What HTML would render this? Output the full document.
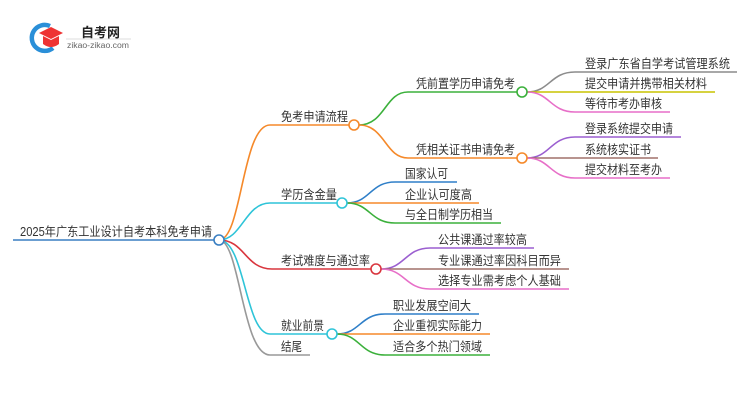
<!DOCTYPE html>
<html><head><meta charset="utf-8"><style>
html,body{margin:0;padding:0;background:#fff;}
svg{display:block;}
text{font-family:"Liberation Sans","Noto Sans CJK SC",sans-serif;font-size:12.5px;fill:#333;}
</style></head><body>
<svg width="750" height="410" viewBox="0 0 750 410" xmlns="http://www.w3.org/2000/svg">
<path d="M50 26 A13 13 0 1 0 53 48" fill="none" stroke="#2a8fd8" stroke-width="4.5"/>
<polygon points="39,33 51,27 63,33 51,39" fill="#e33"/>
<path d="M43 36 L43 44 Q51 50 59 44 L59 36 L51 40 Z" fill="#e33"/>
<text x="81" y="37" style="font-size:13px;font-weight:bold;fill:#222">自考网</text>
<line x1="66" y1="39" x2="131" y2="39" stroke="#ddd" stroke-width="1"/>
<text x="67" y="48" style="font-size:8px;fill:#666" textLength="62" lengthAdjust="spacingAndGlyphs">zikao-zikao.com</text>

<g fill="none" stroke-width="1.6">
<line x1="13" y1="240" x2="214" y2="240" stroke="#3a7fc2"/>
<path d="M219 240 C242 240 242 125 270 125 L349 125" stroke="#f5892a"/>
<path d="M219 240 C242 240 245 203 270 203 L337 203" stroke="#2ec4d8"/>
<path d="M219 240 C245 240 245 269 272 269 L371 269" stroke="#d9363e"/>
<path d="M219 240 C245 240 245 334 270 334 L327 334" stroke="#2ec4d8"/>
<path d="M219 240 C240 240 242 355 270 355 L310 355" stroke="#999"/>
<path d="M359 125 C385 125 385 92 408 92 L517 92" stroke="#3bb03b"/>
<path d="M359 125 C385 125 385 158 408 158 L517 158" stroke="#f5892a"/>
<path d="M527 92 C550 92 550 72 575 72 L737 72" stroke="#8c8c8c"/>
<path d="M527 92 L715 92" stroke="#c8c400"/>
<path d="M527 92 C550 92 550 112 575 112 L670 112" stroke="#e76fc8"/>
<path d="M527 158 C550 158 550 137 575 137 L681 137" stroke="#9b5fd0"/>
<path d="M527 158 L658 158" stroke="#a0706a"/>
<path d="M527 158 C550 158 550 178 575 178 L670 178" stroke="#e76fc8"/>
<path d="M347 203 C370 203 370 182 395 182 L457 182" stroke="#2f7fc8"/>
<path d="M347 203 L479 203" stroke="#f5892a"/>
<path d="M347 203 C370 203 370 223 395 223 L501 223" stroke="#3bb03b"/>
<path d="M381 269 C405 269 405 248 430 248 L534 248" stroke="#9b5fd0"/>
<path d="M381 269 L569 269" stroke="#a0706a"/>
<path d="M381 269 C405 269 405 289 430 289 L569 289" stroke="#e76fc8"/>
<path d="M337 334 C360 334 360 314 385 314 L479 314" stroke="#2f7fc8"/>
<path d="M337 334 L490 334" stroke="#f5892a"/>
<path d="M337 334 C360 334 360 355 385 355 L490 355" stroke="#3bb03b"/>
</g>
<g fill="#fff" stroke-width="1.6">
<circle cx="219" cy="240" r="5" stroke="#3a7fc2"/>
<circle cx="354" cy="125" r="5" stroke="#f5892a"/>
<circle cx="342" cy="203" r="5" stroke="#2ec4d8"/>
<circle cx="376" cy="269" r="5" stroke="#d9363e"/>
<circle cx="332" cy="334" r="5" stroke="#2ec4d8"/>
<circle cx="522" cy="92" r="5" stroke="#3bb03b"/>
<circle cx="522" cy="158" r="5" stroke="#f5892a"/>
</g>
<g>
<text x="20" y="236" textLength="192" lengthAdjust="spacingAndGlyphs">2025年广东工业设计自考本科免考申请</text>
<text x="281" y="121" textLength="67" lengthAdjust="spacingAndGlyphs">免考申请流程</text>
<text x="281" y="199" textLength="56" lengthAdjust="spacingAndGlyphs">学历含金量</text>
<text x="281" y="265" textLength="89" lengthAdjust="spacingAndGlyphs">考试难度与通过率</text>
<text x="281" y="330" textLength="43" lengthAdjust="spacingAndGlyphs">就业前景</text>
<text x="281" y="351" textLength="21" lengthAdjust="spacingAndGlyphs">结尾</text>
<text x="416" y="88" textLength="99" lengthAdjust="spacingAndGlyphs">凭前置学历申请免考</text>
<text x="416" y="154" textLength="99" lengthAdjust="spacingAndGlyphs">凭相关证书申请免考</text>
<text x="585" y="68" textLength="145" lengthAdjust="spacingAndGlyphs">登录广东省自学考试管理系统</text>
<text x="585" y="88" textLength="122" lengthAdjust="spacingAndGlyphs">提交申请并携带相关材料</text>
<text x="585" y="108" textLength="77" lengthAdjust="spacingAndGlyphs">等待市考办审核</text>
<text x="585" y="133" textLength="88" lengthAdjust="spacingAndGlyphs">登录系统提交申请</text>
<text x="585" y="154" textLength="66" lengthAdjust="spacingAndGlyphs">系统核实证书</text>
<text x="585" y="174" textLength="77" lengthAdjust="spacingAndGlyphs">提交材料至考办</text>
<text x="405" y="178" textLength="43" lengthAdjust="spacingAndGlyphs">国家认可</text>
<text x="405" y="199" textLength="67" lengthAdjust="spacingAndGlyphs">企业认可度高</text>
<text x="405" y="219" textLength="88" lengthAdjust="spacingAndGlyphs">与全日制学历相当</text>
<text x="438" y="244" textLength="89" lengthAdjust="spacingAndGlyphs">公共课通过率较高</text>
<text x="438" y="265" textLength="123" lengthAdjust="spacingAndGlyphs">专业课通过率因科目而异</text>
<text x="438" y="285" textLength="123" lengthAdjust="spacingAndGlyphs">选择专业需考虑个人基础</text>
<text x="393" y="310" textLength="78" lengthAdjust="spacingAndGlyphs">职业发展空间大</text>
<text x="393" y="330" textLength="89" lengthAdjust="spacingAndGlyphs">企业重视实际能力</text>
<text x="393" y="351" textLength="89" lengthAdjust="spacingAndGlyphs">适合多个热门领域</text>
</g>
</svg>
</body></html>
